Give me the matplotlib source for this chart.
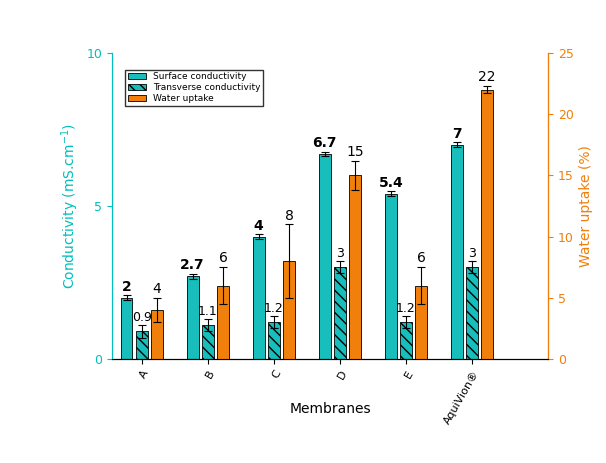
import matplotlib
matplotlib.use("Agg")
import matplotlib.pyplot as plt
import numpy as np

cats = ["A", "B", "C", "D", "E", "AquiVion®"]
surface = [2, 2.7, 4, 6.7, 5.4, 7]
surface_err = [0.08, 0.08, 0.08, 0.08, 0.08, 0.08]
transverse = [0.9, 1.1, 1.2, 3, 1.2, 3]
transverse_err = [0.2, 0.2, 0.2, 0.2, 0.2, 0.2]
water = [4, 6, 8, 15, 6, 22]
water_err = [1, 1.5, 3, 1.2, 1.5, 0.3]
s_lab = ["2", "2.7", "4", "6.7", "5.4", "7"]
t_lab = ["0.9", "1.1", "1.2", "3", "1.2", "3"]
w_lab = ["4", "6", "8", "15", "6", "22"]

cyan = "#17BEBB"
cyan_t = "#00BFBF"
orange = "#F07F0C"

fig = plt.figure(figsize=(6.06, 4.63), dpi=100)
ax = fig.add_axes([112/606, 1-359/463, 436/606, 306/463])
ax2 = ax.twinx()
x = np.arange(len(cats))
w = 0.18
off = 0.23
ek = dict(ecolor="black", capsize=3, elinewidth=0.8, capthick=0.8)
ax.bar(x-off, surface, w, yerr=surface_err, color=cyan, edgecolor="black", lw=0.6, error_kw=ek, label="Surface conductivity")
ax.bar(x, transverse, w, yerr=transverse_err, color=cyan, edgecolor="black", lw=0.6, hatch="\\\\\\", error_kw=ek, label="Transverse conductivity")
ax2.bar(x+off, water, w, yerr=water_err, color=orange, edgecolor="black", lw=0.6, error_kw=ek, label="Water uptake")
for i in range(len(cats)):
    ax.text(x[i]-off, surface[i]+surface_err[i]+0.05, s_lab[i], ha="center", va="bottom", fontsize=10, fontweight="bold")
    ax.text(x[i], transverse[i]+transverse_err[i]+0.05, t_lab[i], ha="center", va="bottom", fontsize=9)
    ax2.text(x[i]+off, water[i]+water_err[i]+0.15, w_lab[i], ha="center", va="bottom", fontsize=10)
ax.set_xlim(-0.45, 6.15)
ax.set_ylim(0, 10)
ax2.set_ylim(0, 25)
ax.set_yticks([0, 5, 10])
ax2.set_yticks(range(0, 26, 5))
ax.set_xticks(x)
ax.set_xticklabels(cats, rotation=60, ha="right", rotation_mode="anchor", fontsize=8)
ax.set_xlabel("Membranes", fontsize=10)
ax.xaxis.set_label_coords(0.5, -0.14)
ax.set_ylabel("Conductivity (mS.cm$^{-1}$)", color=cyan_t, fontsize=10)
ax2.set_ylabel("Water uptake (%)", color=orange, fontsize=10)
ax.tick_params(axis="y", colors=cyan_t, labelsize=9)
ax2.tick_params(axis="y", colors=orange, labelsize=9)
ax.spines["left"].set_color(cyan_t)
ax2.spines["left"].set_color(cyan_t)
ax2.spines["right"].set_color(orange)
ax.spines["top"].set_visible(False)
ax2.spines["top"].set_visible(False)
h1, l1 = ax.get_legend_handles_labels()
h2, l2 = ax2.get_legend_handles_labels()
ax.legend(h1+h2, l1+l2, loc="upper left", bbox_to_anchor=(0.02, 0.96), fontsize=6.5, frameon=True, fancybox=False, edgecolor="black", handlelength=2, borderpad=0.3, labelspacing=0.2)
fig.savefig("out.png", dpi=100)
